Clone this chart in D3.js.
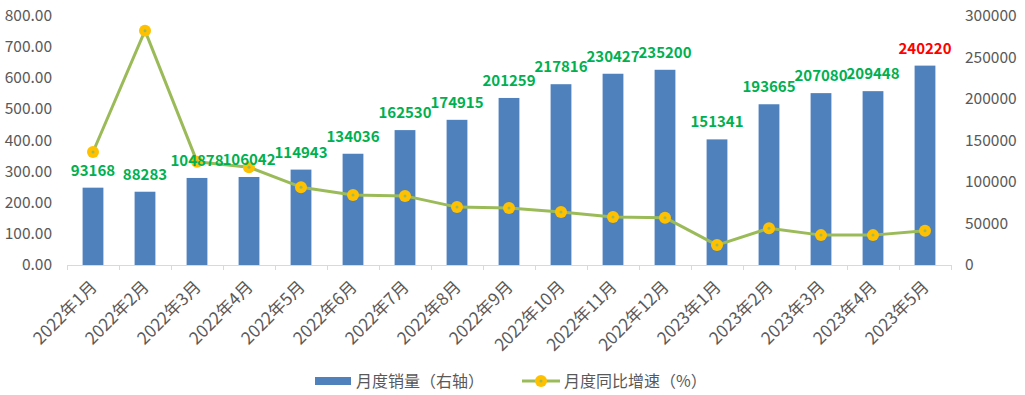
<!DOCTYPE html>
<html>
<head>
<meta charset="utf-8">
<script src="https://cdn.jsdelivr.net/npm/d3@7"></script>
<style>
  html, body { margin: 0; padding: 0; background: #fff; }
  svg { display: block; }
</style>
</head>
<body>
<div id="chart"></div>
<script>
// Data
var months = ["2022年1月", "2022年2月", "2022年3月", "2022年4月", "2022年5月", "2022年6月",
  "2022年7月", "2022年8月", "2022年9月", "2022年10月", "2022年11月", "2022年12月",
  "2023年1月", "2023年2月", "2023年3月", "2023年4月", "2023年5月"];
var sales = [93168, 88283, 104878, 106042, 114943, 134036, 162530, 174915, 201259,
  217816, 230427, 235200, 151341, 193665, 207080, 209448, 240220];
var growth = [363, 753, 332, 314, 250, 225, 222, 186, 183, 170, 154, 152, 64, 118, 96, 96, 110];
var leftTicks = [0, 100, 200, 300, 400, 500, 600, 700, 800];
var rightTicks = [0, 50000, 100000, 150000, 200000, 250000, 300000];
var seriesNames = ["月度销量（右轴）", "月度同比增速（%）"];

var width = 1025, height = 395;
var font = "'Noto Sans CJK SC', 'Noto Sans', sans-serif";
var axisGrey = "#595959";
var barBlue = "#4F81BD";
var lineGreen = "#9BBB59";
var markerYellow = "#FFC000";

var svg = d3.select("#chart").append("svg")
  .attr("width", width).attr("height", height);

// Scales
var x = d3.scaleBand()
  .domain(months)
  .range([67, 951])
  .paddingInner(0.6)
  .paddingOuter(0.3);
var step = x.step();
var yLeft = d3.scaleLinear().domain([0, 800]).range([265, 16]);
var yRight = d3.scaleLinear().domain([0, 300000]).range([265, 16]);
function cx(d) { return x(d) + x.bandwidth() / 2; }

// Left axis labels
svg.append("g").selectAll("text")
  .data(leftTicks).join("text")
    .attr("x", 52)
    .attr("y", function (d) { return yLeft(d) + 5; })
    .attr("text-anchor", "end")
    .attr("font-family", font).attr("font-size", 15.5).attr("fill", axisGrey)
    .text(function (d) { return d.toFixed(2); });

// Right axis labels
svg.append("g").selectAll("text")
  .data(rightTicks).join("text")
    .attr("x", 965)
    .attr("y", function (d) { return yRight(d) + 5; })
    .attr("text-anchor", "start")
    .attr("font-family", font).attr("font-size", 15.5).attr("fill", axisGrey)
    .text(function (d) { return d; });

// Bars
svg.append("g").selectAll("rect")
  .data(months).join("rect")
    .attr("x", function (d) { return x(d); })
    .attr("width", x.bandwidth())
    .attr("y", function (d, i) { return yRight(sales[i]); })
    .attr("height", function (d, i) { return yRight(0) - yRight(sales[i]); })
    .attr("fill", barBlue);

// X axis line + ticks
var xr = x.range();
svg.append("line")
  .attr("x1", xr[0]).attr("x2", xr[1])
  .attr("y1", yLeft(0) + 0.5).attr("y2", yLeft(0) + 0.5)
  .attr("stroke", "#d9d9d9").attr("stroke-width", 1);
var tickXs = months.map(function (d) { return cx(d) - step / 2; }).concat([cx(months[months.length - 1]) + step / 2]);
svg.append("g").selectAll("line")
  .data(tickXs).join("line")
    .attr("x1", function (d) { return Math.round(d) + 0.5; })
    .attr("x2", function (d) { return Math.round(d) + 0.5; })
    .attr("y1", yLeft(0)).attr("y2", yLeft(0) + 5)
    .attr("stroke", "#d9d9d9");

// X labels, rotated
svg.append("g").selectAll("text")
  .data(months).join("text")
    .attr("transform", function (d) { return "translate(" + (cx(d) + 5) + "," + 288 + ") rotate(-45)"; })
    .attr("text-anchor", "end")
    .attr("font-family", font).attr("font-size", 17).attr("fill", axisGrey)
    .text(function (d) { return d; });

// Growth line
var line = d3.line()
  .x(function (d, i) { return cx(months[i]); })
  .y(function (d) { return yLeft(d); });
svg.append("path")
  .datum(growth)
  .attr("d", line)
  .attr("fill", "none")
  .attr("stroke", lineGreen).attr("stroke-width", 3)
  .attr("stroke-linejoin", "round");

var markers = svg.append("g").selectAll("g")
  .data(growth).join("g")
    .attr("transform", function (d, i) { return "translate(" + cx(months[i]) + "," + yLeft(d) + ")"; });
markers.append("circle").attr("r", 6).attr("fill", markerYellow);
markers.append("circle").attr("r", 1.5).attr("fill", lineGreen);

// Value labels
svg.append("g").selectAll("text")
  .data(months).join("text")
    .attr("x", function (d) { return cx(d); })
    .attr("y", function (d, i) { return yRight(sales[i]) - 12; })
    .attr("text-anchor", "middle")
    .attr("font-family", font).attr("font-size", 15).attr("font-weight", 700)
    .attr("fill", function (d, i) { return i === months.length - 1 ? "#FF0000" : "#00B050"; })
    .text(function (d, i) { return sales[i]; });

// Legend
var lg = svg.append("g");
lg.append("rect").attr("x", 315).attr("y", 377).attr("width", 36).attr("height", 8).attr("fill", barBlue);
lg.append("text").attr("x", 356).attr("y", 387)
  .attr("font-family", font).attr("font-size", 16).attr("fill", axisGrey)
  .text(seriesNames[0]);
lg.append("line").attr("x1", 522).attr("x2", 560).attr("y1", 381).attr("y2", 381)
  .attr("stroke", lineGreen).attr("stroke-width", 3);
lg.append("circle").attr("cx", 541).attr("cy", 381).attr("r", 6).attr("fill", markerYellow);
lg.append("circle").attr("cx", 541).attr("cy", 381).attr("r", 1.5).attr("fill", lineGreen);
lg.append("text").attr("x", 564).attr("y", 387)
  .attr("font-family", font).attr("font-size", 16).attr("fill", axisGrey)
  .text(seriesNames[1]);
</script>
</body>
</html>
